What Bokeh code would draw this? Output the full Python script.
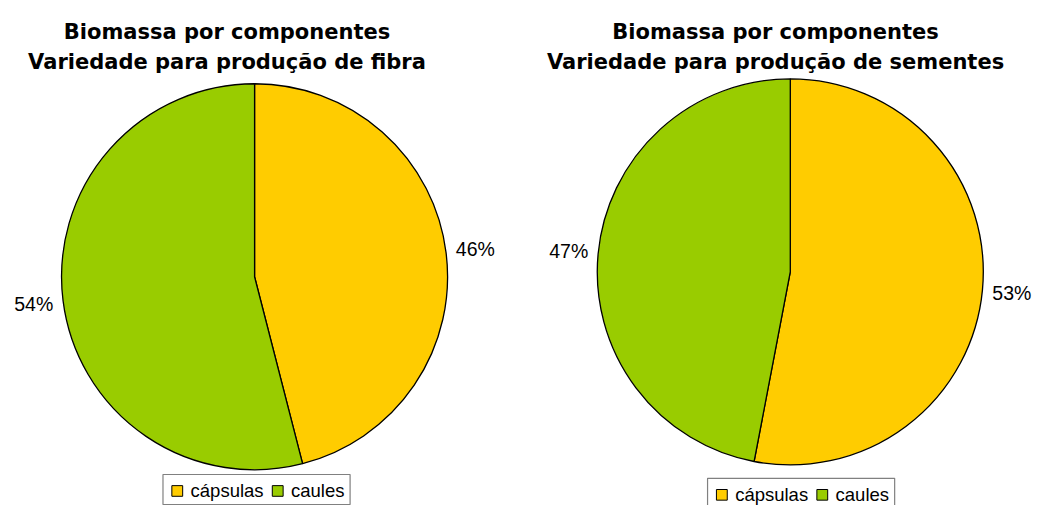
import numpy as np
from bokeh.plotting import figure
from bokeh.models import Range1d, ColumnDataSource
from bokeh.core.properties import value
from bokeh.embed import file_html
from bokeh.resources import INLINE

# ---- data ----
categories = ["cápsulas", "caules"]
fibra_values = [46, 54]
sementes_values = [53, 47]
colors = ["#FFCC00", "#99CC00"]
title_line1 = "Biomassa por componentes"
title_fibra = "Variedade para produção de fibra"
title_sementes = "Variedade para produção de sementes"

FONT = "Liberation Sans"
TFONT = "DejaVu Sans"
H = 521  # reference height; data y = H - reference image y

p = figure(width=1034, height=505, output_backend="svg", toolbar_location=None,
           x_range=Range1d(0, 1050), y_range=Range1d(0, 521),
           min_border=0, min_border_left=0, min_border_right=0,
           min_border_top=0, min_border_bottom=0)
p.axis.visible = False
p.grid.visible = False
p.outline_line_color = None
p.background_fill_color = "white"
p.border_fill_color = "white"


def pie(cx, cy_img, r, vals, title2, tx, ty1_img, ty2_img, lx, ly_img, lw):
    cy = H - cy_img
    vals = np.array(vals, dtype=float)
    frac = vals / vals.sum()
    cum = np.concatenate([[0], np.cumsum(frac)])
    start = np.pi / 2 - 2 * np.pi * cum[1:]
    end = np.pi / 2 - 2 * np.pi * cum[:-1]
    src = ColumnDataSource(dict(start=start, end=end, color=colors))
    p.wedge(x=cx, y=cy, radius=r, start_angle="start", end_angle="end",
            fill_color="color", line_color="black", line_width=1.3, source=src)
    mid = (start + end) / 2
    lr = r + 30
    labels = ["%d%%" % round(f * 100) for f in frac]
    p.text(x=cx + lr * np.cos(mid), y=cy + lr * np.sin(mid), text=labels,
           text_font=value(FONT), text_font_size="19.5px", text_color="black",
           text_align="center", text_baseline="middle")
    # titles
    p.text(x=[tx, tx], y=[H - ty1_img, H - ty2_img], text=[title_line1, title2],
           text_font=value(TFONT), text_font_size="21px", text_font_style="bold",
           text_color="black", text_align="center", text_baseline="alphabetic")
    # legend
    top = H - ly_img
    p.quad(left=lx, right=lx + lw, top=top, bottom=top - 31,
           fill_color="white", line_color="#808080", line_width=1.2)
    xs = [lx + 9, lx + 111]
    p.rect(x=[x + 5.5 for x in xs], y=[top - 17] * 2, width=11, height=11,
           fill_color=colors, line_color="black", line_width=1)
    p.text(x=[x + 19 for x in xs], y=[top - 17] * 2, text=categories,
           text_font=value(FONT), text_font_size="18.5px", text_color="black",
           text_align="left", text_baseline="middle")


pie(258, 285, 196, fibra_values, title_fibra, 230, 32, 63, 165, 489, 190)
pie(802, 280, 196, sementes_values, title_sementes, 787, 32, 63, 718, 493, 190)

open("out.html", "w").write(file_html(p, INLINE))
